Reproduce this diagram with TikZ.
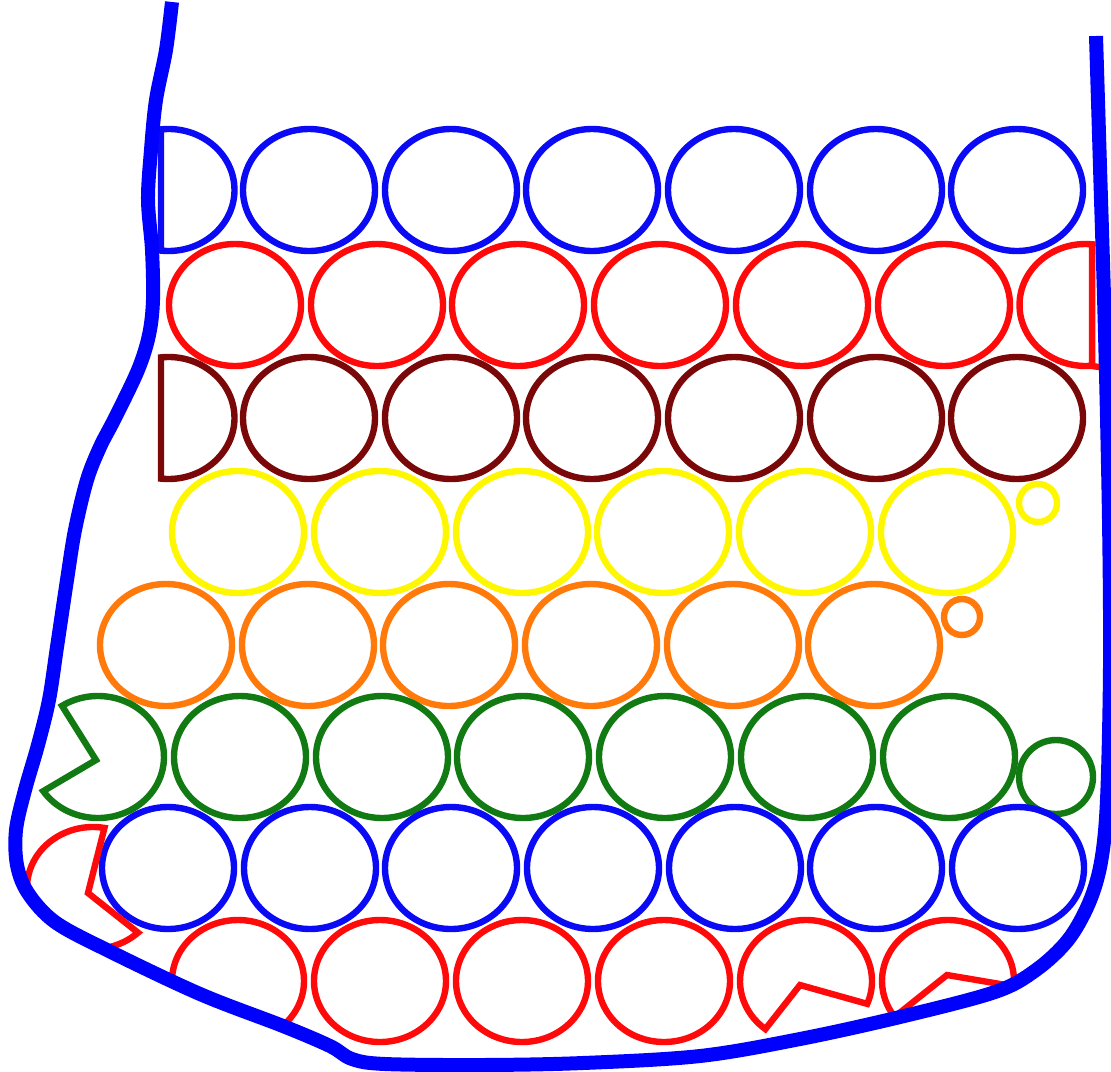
\documentclass[tikz,border=0pt]{standalone}
\usepackage{tikz}
\definecolor{rimblue}{HTML}{0000FF}
\definecolor{ballblue}{HTML}{0A0AF5}
\definecolor{ballred}{HTML}{FF0A0A}
\definecolor{ballbrown}{HTML}{7A0808}
\definecolor{ballyellow}{HTML}{FFF700}
\definecolor{ballorange}{HTML}{FF7A0A}
\definecolor{ballgreen}{HTML}{127A12}

\begin{document}
\begin{tikzpicture}[x=1pt,y=-1pt,
  ring/.style={line width=6.4pt,line join=miter},
  rim/.style={draw=rimblue,line width=14pt}
]
  \useasboundingbox (0,0) rectangle (1111,1071);

  \path[save path=\rimpath] plot[smooth,tension=0.55] coordinates {
    (172,2) (166,50) (156,100) (151,150) (148,200) (152,250) (153,300)
    (149,335) (138,370) (115,418) (100,447) (87,480) (75,530) (67,580)
    (57,647) (49,700) (38,745) (25,790) (16,830) (17,865) (28,893)
    (55,922) (107,950) (200,994) (283,1026) (330,1046) (352,1059)
    (385,1064) (483,1065) (583,1063) (700,1056) (800,1039) (900,1017)
    (995,992) (1036,970) (1068,940) (1089,903) (1101,862) (1107,800)
    (1110,667) (1109,520) (1105,333) (1100,167) (1096,36)};

  \begin{scope}
    \clip[use path=\rimpath];

    % row 1
    \foreach \cx in {309,451,592,734,876,1017}
      \draw[ring,ballblue] (\cx,190) ellipse[x radius=66,y radius=61];
    \draw[ring,ballblue] (168.5,190) ++(-96.5:66 and 61)
      arc[start angle=-96.5,end angle=96.5,x radius=66,y radius=61] -- cycle;

    % row 2
    \foreach \cx in {235,377,518,660,802,944}
      \draw[ring,ballred] (\cx,305) ellipse[x radius=66,y radius=61];
    \draw[ring,ballred] (1085.5,305) ++(-84.3:66 and 61)
      arc[start angle=-84.3,end angle=-275.7,x radius=66,y radius=61] -- cycle;
    \draw[ring,ballred] (1092,366) -- (1106,368);

    % row 3
    \foreach \cx in {309,451,592,734,876,1017}
      \draw[ring,ballbrown] (\cx,418) ellipse[x radius=66,y radius=61];
    \draw[ring,ballbrown] (168.5,418) ++(-96.5:66 and 61)
      arc[start angle=-96.5,end angle=96.5,x radius=66,y radius=61] -- cycle;

    % row 4
    \foreach \cx in {238,380,522,663,805,947}
      \draw[ring,ballyellow] (\cx,532) ellipse[x radius=66,y radius=61];
    \draw[ring,ballyellow] (1038,503) circle[radius=19];

    % row 5
    \foreach \cx in {166,308,449,591,733,874}
      \draw[ring,ballorange] (\cx,645) ellipse[x radius=66,y radius=61];
    \draw[ring,ballorange] (962,617) circle[radius=18];

    % row 6
    \foreach \cx in {240,382,523,665,807,949}
      \draw[ring,ballgreen] (\cx,757) ellipse[x radius=66,y radius=61];
    \draw[ring,ballgreen] (1056,777) circle[radius=37];
    \draw[ring,ballgreen] (98,757) ++(-123:66 and 61)
      arc[start angle=-123,end angle=146,x radius=66,y radius=61]
      -- (96,760) -- cycle;

    % row 7
    \foreach \cx in {168,310,451,593,735,876,1018}
      \draw[ring,ballblue] (\cx,868) ellipse[x radius=66,y radius=61];
    \draw[ring,ballred] (93,888) ++(-80:66 and 61)
      arc[start angle=-80,end angle=-313,x radius=66,y radius=61]
      -- (88,893) -- cycle;

    % row 8
    \foreach \cx in {238,380,522,664}
      \draw[ring,ballred] (\cx,981) ellipse[x radius=66,y radius=61];
    \draw[ring,ballred] (806,981) ++(22:66 and 61)
      arc[start angle=22,end angle=-232,x radius=66,y radius=61]
      -- (800,985) -- cycle;
    \draw[ring,ballred] (948,981) ++(5:66 and 61)
      arc[start angle=5,end angle=-216,x radius=66,y radius=61]
      -- (947,975) -- cycle;
  \end{scope}

  \draw[rim,use path=\rimpath];
\end{tikzpicture}
\end{document}
